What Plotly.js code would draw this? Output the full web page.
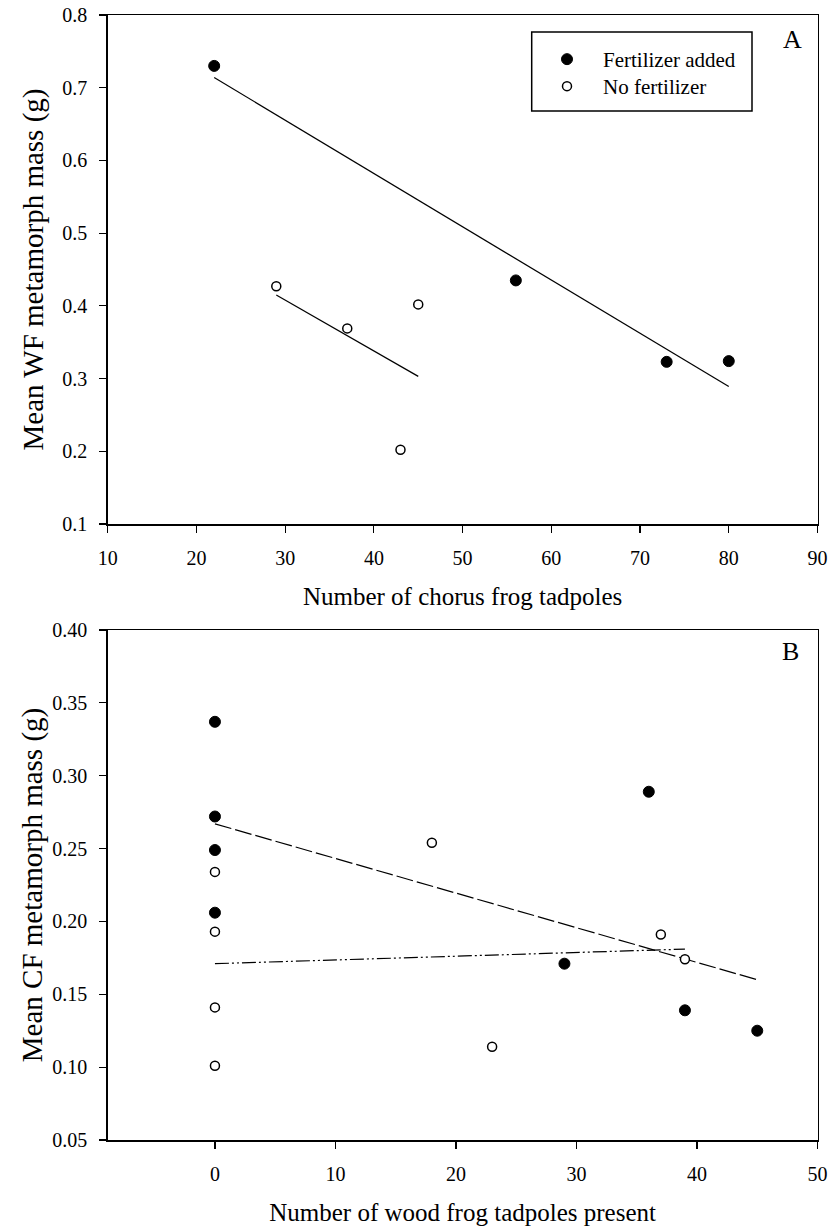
<!DOCTYPE html>
<html>
<head>
<meta charset="utf-8">
<script src="https://cdn.plot.ly/plotly-3.0.1.min.js"></script>
<style>
  html, body { margin: 0; padding: 0; background: #ffffff; }
  #chart { width: 830px; height: 1230px; }
</style>
</head>
<body>
<div id="chart"></div>
<script>
// ---------- Panel A data ----------
const seriesNames = ["Fertilizer added", "No fertilizer"];
const aFertX = [22, 56, 73, 80];
const aFertY = [0.730, 0.435, 0.323, 0.324];
const aNoFertX = [29, 37, 45, 43];
const aNoFertY = [0.427, 0.369, 0.402, 0.202];
const aFertFitX = [22, 80];
const aFertFitY = [0.714, 0.289];
const aNoFertFitX = [29, 45];
const aNoFertFitY = [0.415, 0.303];
const aXTicks = [10, 20, 30, 40, 50, 60, 70, 80, 90];
const aYTicks = [0.1, 0.2, 0.3, 0.4, 0.5, 0.6, 0.7, 0.8];

// ---------- Panel B data ----------
const bFertX = [0, 0, 0, 0, 29, 36, 39, 45];
const bFertY = [0.337, 0.272, 0.249, 0.206, 0.171, 0.289, 0.139, 0.125];
const bNoFertX = [0, 0, 0, 0, 18, 23, 37, 39];
const bNoFertY = [0.234, 0.193, 0.141, 0.101, 0.254, 0.114, 0.191, 0.174];
const bDashFitX = [0, 45];
const bDashFitY = [0.267, 0.160];
const bDotFitX = [0, 39];
const bDotFitY = [0.171, 0.181];
const bXTicks = [0, 10, 20, 30, 40, 50];
const bYTicks = [0.05, 0.10, 0.15, 0.20, 0.25, 0.30, 0.35, 0.40];

const FONT = "Liberation Serif, Times New Roman, serif";
const filledMarker = {symbol: "circle", size: 11, color: "#000000", line: {color: "#000000", width: 1}};
const openMarker = {symbol: "circle", size: 9, color: "#ffffff", line: {color: "#000000", width: 1.5}};

const traces = [
  {x: aFertFitX, y: aFertFitY, mode: "lines", line: {color: "#000", width: 1.2}, showlegend: false, xaxis: "x", yaxis: "y", hoverinfo: "skip"},
  {x: aNoFertFitX, y: aNoFertFitY, mode: "lines", line: {color: "#000", width: 1.2}, showlegend: false, xaxis: "x", yaxis: "y", hoverinfo: "skip"},
  {x: aFertX, y: aFertY, mode: "markers", name: seriesNames[0], marker: filledMarker, xaxis: "x", yaxis: "y", legend: "legend"},
  {x: aNoFertX, y: aNoFertY, mode: "markers", name: seriesNames[1], marker: openMarker, xaxis: "x", yaxis: "y", legend: "legend2"},
  {x: bDashFitX, y: bDashFitY, mode: "lines", line: {color: "#000", width: 1.2, dash: "17px,4px"}, showlegend: false, xaxis: "x2", yaxis: "y2", hoverinfo: "skip"},
  {x: bDotFitX, y: bDotFitY, mode: "lines", line: {color: "#000", width: 1.2, dash: "14px,3px,2px,3px,2px,3px"}, showlegend: false, xaxis: "x2", yaxis: "y2", hoverinfo: "skip"},
  {x: bFertX, y: bFertY, mode: "markers", name: seriesNames[0], marker: filledMarker, xaxis: "x2", yaxis: "y2", showlegend: false},
  {x: bNoFertX, y: bNoFertY, mode: "markers", name: seriesNames[1], marker: openMarker, xaxis: "x2", yaxis: "y2", showlegend: false}
];

const W = 830, H = 1230;
const xDom = [107.7 / W, 817.5 / W];
const yDomA = [1 - 524 / H, 1 - 15 / H];
const yDomB = [1 - 1140 / H, 1 - 630 / H];

function axisBase() {
  return {
    showline: true, linecolor: "#000", linewidth: 1.5, mirror: true,
    ticks: "outside", ticklen: 7, tickwidth: 1.2, tickcolor: "#000",
    showgrid: false, zeroline: false,
    tickfont: {family: FONT, size: 20, color: "#000"},
    ticklabelstandoff: 8,
    automargin: false
  };
}

function legendAt(topPx) {
  return {
    x: 531 / W, y: 1 - topPx / H, xanchor: "left", yanchor: "top",
    bgcolor: "rgba(0,0,0,0)", borderwidth: 0,
    font: {family: FONT, size: 21, color: "#000"},
    itemwidth: 62, tracegroupgap: 0
  };
}

const layout = {
  width: W, height: H,
  margin: {l: 0, r: 0, t: 0, b: 0},
  paper_bgcolor: "#ffffff", plot_bgcolor: "#ffffff",
  font: {family: FONT, color: "#000"},
  showlegend: true,
  legend: legendAt(39),
  legend2: legendAt(66),
  xaxis: Object.assign(axisBase(), {
    domain: xDom, anchor: "y", range: [10, 90],
    tickmode: "array", tickvals: aXTicks, ticktext: aXTicks.map(String),
    title: {text: "Number of chorus frog tadpoles", font: {family: FONT, size: 25, color: "#000"}, standoff: 20}
  }),
  yaxis: Object.assign(axisBase(), {
    domain: yDomA, anchor: "x", range: [0.1, 0.8],
    tickmode: "array", tickvals: aYTicks, ticktext: aYTicks.map(v => v.toFixed(1)),
    title: {text: "Mean WF metamorph mass (g)", font: {family: FONT, size: 29, color: "#000"}, standoff: 10}
  }),
  xaxis2: Object.assign(axisBase(), {
    domain: xDom, anchor: "y2", range: [-8.9, 50],
    tickmode: "array", tickvals: bXTicks, ticktext: bXTicks.map(String),
    title: {text: "Number of wood frog tadpoles present", font: {family: FONT, size: 25, color: "#000"}, standoff: 20}
  }),
  yaxis2: Object.assign(axisBase(), {
    domain: yDomB, anchor: "x2", range: [0.05, 0.40],
    tickmode: "array", tickvals: bYTicks, ticktext: bYTicks.map(v => v.toFixed(2)),
    title: {text: "Mean CF metamorph mass (g)", font: {family: FONT, size: 29, color: "#000"}, standoff: 1}
  }),
  shapes: [
    {type: "rect", xref: "paper", yref: "paper", x0: 531.7 / W, x1: 752 / W, y0: 1 - 111 / H, y1: 1 - 32 / H,
     line: {color: "#000", width: 1.5}, fillcolor: "rgba(0,0,0,0)"}
  ],
  annotations: [
    {text: "A", xref: "paper", yref: "paper", x: 792 / W, y: 1 - 39 / H, xanchor: "center", yanchor: "middle",
     showarrow: false, font: {family: FONT, size: 26, color: "#000"}},
    {text: "B", xref: "paper", yref: "paper", x: 790 / W, y: 1 - 652 / H, xanchor: "center", yanchor: "middle",
     showarrow: false, font: {family: FONT, size: 26, color: "#000"}}
  ]
};

Plotly.newPlot("chart", traces, layout, {displayModeBar: false, staticPlot: true});
</script>
</body>
</html>
